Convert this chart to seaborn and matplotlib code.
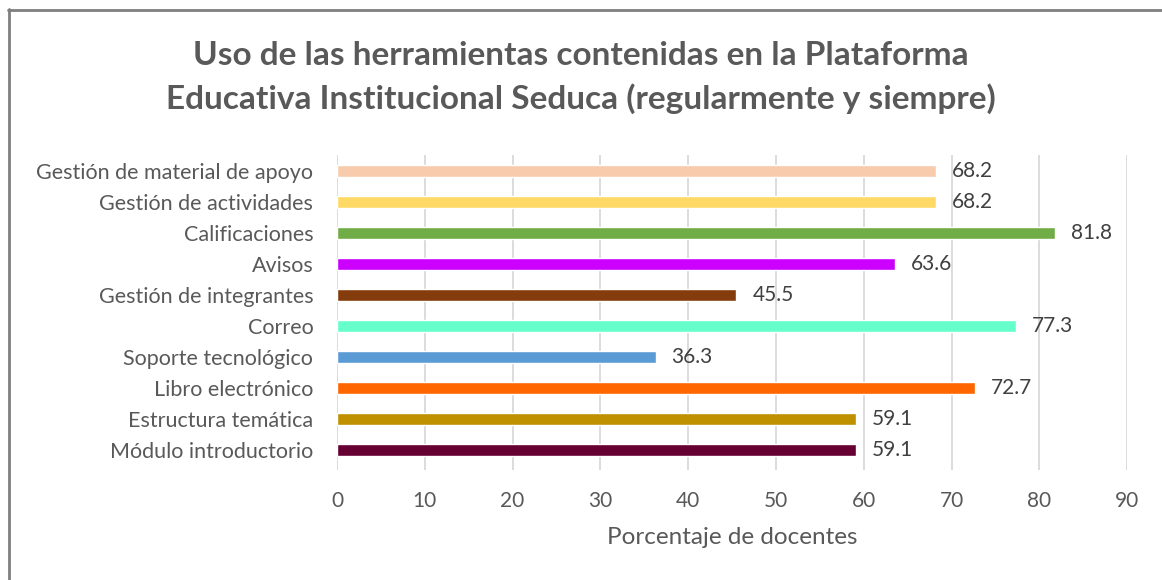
import numpy as np
import matplotlib.pyplot as plt
import seaborn as sns
from matplotlib.lines import Line2D

categorias = ['Gestión de material de apoyo', 'Gestión de actividades', 'Calificaciones',
              'Avisos', 'Gestión de integrantes', 'Correo', 'Soporte tecnológico',
              'Libro electrónico', 'Estructura temática', 'Módulo introductorio']
porcentajes = [68.2, 68.2, 81.8, 63.6, 45.5, 77.3, 36.3, 72.7, 59.1, 59.1]
colores = ['#F8CBAD', '#FFD966', '#70AD47', '#CC00FF', '#843C0C',
           '#66FFCC', '#5B9BD5', '#FF6600', '#BF9000', '#660033']

sns.set_style('white')
plt.rcParams['font.family'] = ['Lato', 'DejaVu Sans']

fig = plt.figure(figsize=(11.62, 5.80), dpi=100)
ax = fig.add_axes([0.290, 0.190, 0.680, 0.543])

sns.barplot(x=porcentajes, y=categorias, hue=categorias, palette=colores,
            orient='h', width=0.38, saturation=1, legend=False, ax=ax)

for c in ax.containers:
    ax.bar_label(c, fmt='%.1f', padding=11.5, fontsize=15, color='#404040')

ax.set_xlim(0, 90)
ax.set_ylim(9.63, -0.52)
ax.set_xticks(np.arange(0, 91, 10))
ax.grid(axis='x', color='#D9D9D9', linewidth=1.3)
ax.set_axisbelow(True)
sns.despine(ax=ax, left=True, bottom=True)
ax.tick_params(axis='both', length=0, labelcolor='#595959')
ax.tick_params(axis='y', pad=17, labelsize=15.5)
ax.tick_params(axis='x', pad=15, labelsize=15)
ax.set_xlabel('Porcentaje de docentes', fontsize=17.5, color='#595959', labelpad=12)
ax.set_ylabel('')

fig.text(0.5, 0.866, 'Uso de las herramientas contenidas en la Plataforma\n'
         'Educativa Institucional Seduca (regularmente y siempre)',
         ha='center', va='center', fontsize=24, fontweight='bold',
         color='#595959', linespacing=1.52)

# marco
fig.add_artist(Line2D([9 / 1162, 9 / 1162], [0, 1 - 9 / 580], color='#7F7F7F', linewidth=2))
fig.add_artist(Line2D([8 / 1162, 1], [1 - 10 / 580, 1 - 10 / 580], color='#7F7F7F', linewidth=2))

plt.savefig('out.png')
